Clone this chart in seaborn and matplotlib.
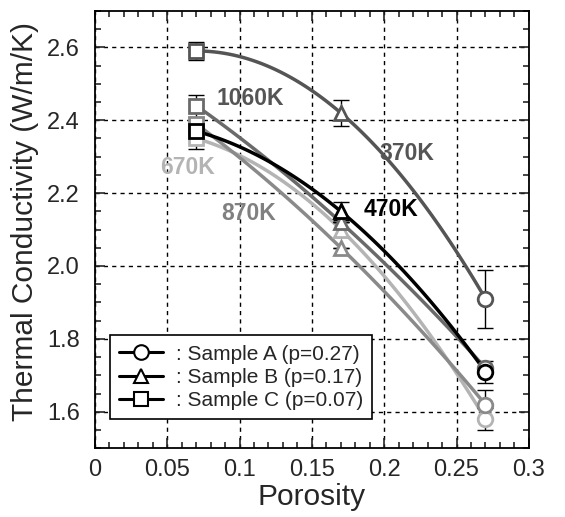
import numpy as np
import pandas as pd
import matplotlib
matplotlib.use("Agg")
import matplotlib.pyplot as plt
from matplotlib.lines import Line2D
from matplotlib.ticker import MultipleLocator, FormatStrFormatter
import seaborn as sns

# porosity of samples C, B, A
porosity = [0.07, 0.17, 0.27]
sample_markers = ["s", "^", "o"]

# thermal conductivity (W/m/K) per temperature, samples C, B, A
k_370 = [2.59, 2.42, 1.91]
k_470 = [2.37, 2.15, 1.71]
k_670 = [2.35, 2.10, 1.58]
k_870 = [2.39, 2.05, 1.62]
k_1060 = [2.44, 2.12, 1.72]

# error bar half widths
err_370 = [0.025, 0.035, 0.08]
err_470 = [0.0, 0.025, 0.03]
err_670 = [0.03, 0.02, 0.03]
err_870 = [0.0, 0.0, 0.04]
err_1060 = [0.03, 0.0, 0.0]

temps = ["370K", "470K", "670K", "870K", "1060K"]
legend_labels = [": Sample A (p=0.27)", ": Sample B (p=0.17)", ": Sample C (p=0.07)"]

sns.set_style("ticks")
plt.rcParams["font.family"] = ["Liberation Sans", "DejaVu Sans"]

curves = {
    "370K": (k_370, err_370, "#555555"),
    "470K": (k_470, err_470, "#000000"),
    "670K": (k_670, err_670, "#b4b4b4"),
    "870K": (k_870, err_870, "#8a8a8a"),
    "1060K": (k_1060, err_1060, "#6a6a6a"),
}

# where the temperature labels sit (data coords) and their text colours
label_pos = {
    "370K": (0.197, 2.31, "#555555"),
    "470K": (0.186, 2.155, "#000000"),
    "670K": (0.045, 2.27, "#b4b4b4"),
    "870K": (0.087, 2.145, "#808080"),
    "1060K": (0.084, 2.46, "#555555"),
}

fig = plt.figure(figsize=(5.65, 5.17), dpi=100)
ax = fig.add_axes([0.168, 0.133, 0.768, 0.846])

for t in ["670K", "870K", "1060K", "470K", "370K"]:
    k, err, col = curves[t]
    # quadratic through the three samples gives the smooth guide curve
    sns.regplot(x=porosity, y=k, order=2, ci=None, scatter=False, ax=ax, truncate=True,
                line_kws=dict(color=col, lw=2.5, zorder=3))
    ax.errorbar(porosity, k, yerr=err, fmt="none", ecolor="black", elinewidth=1,
                capsize=6, capthick=1, zorder=4)
    for x, y, m in zip(porosity, k, sample_markers):
        ax.plot(x, y, marker=m, ms=10.5, mfc="white", mec=col, mew=2, ls="none", zorder=5)

for t, (x, y, col) in label_pos.items():
    ax.text(x, y, t, color=col, fontsize=16.5, fontweight="bold", va="center", ha="left", zorder=6)

ax.set_xlim(0, 0.3)
ax.set_ylim(1.5, 2.7)
ax.set_xticks([0, 0.05, 0.1, 0.15, 0.2, 0.25, 0.3])
ax.set_xticklabels(["0", "0.05", "0.1", "0.15", "0.2", "0.25", "0.3"])
ax.set_yticks([1.6, 1.8, 2.0, 2.2, 2.4, 2.6])
ax.yaxis.set_major_formatter(FormatStrFormatter("%.1f"))
ax.xaxis.set_minor_locator(MultipleLocator(0.01))
ax.yaxis.set_minor_locator(MultipleLocator(0.05))
ax.tick_params(which="both", direction="in", top=True, right=True, labelsize=17, width=1.2)
ax.tick_params(which="major", length=7)
ax.tick_params(which="minor", length=4)
ax.tick_params(axis="x", which="major", pad=8)
ax.tick_params(axis="y", which="major", pad=11)
ax.grid(True, which="major", color="black", ls=(0, (3, 3)), lw=1)
for s in ax.spines.values():
    s.set_linewidth(1.3)
    s.set_color("black")

ax.set_xlabel("Porosity", fontsize=21.5, labelpad=1)
ax.set_ylabel("Thermal Conductivity (W/m/K)", fontsize=21.5)
ax.yaxis.set_label_coords(-0.13, 0.519)

handles = [Line2D([], [], color="black", lw=2.2, marker=m, ms=10.5, mfc="white", mec="black", mew=1.5)
           for m in ["o", "^", "s"]]
leg = ax.legend(handles, legend_labels, loc="lower left", bbox_to_anchor=(0.035, 0.066),
                fontsize=15, frameon=True, fancybox=False, edgecolor="black", framealpha=1,
                handlelength=2.1, handletextpad=0.6, borderpad=0.45, labelspacing=0.2,
                borderaxespad=0)
leg.get_frame().set_linewidth(1.2)
leg.set_zorder(10)

fig.savefig("out.png", dpi=100)
